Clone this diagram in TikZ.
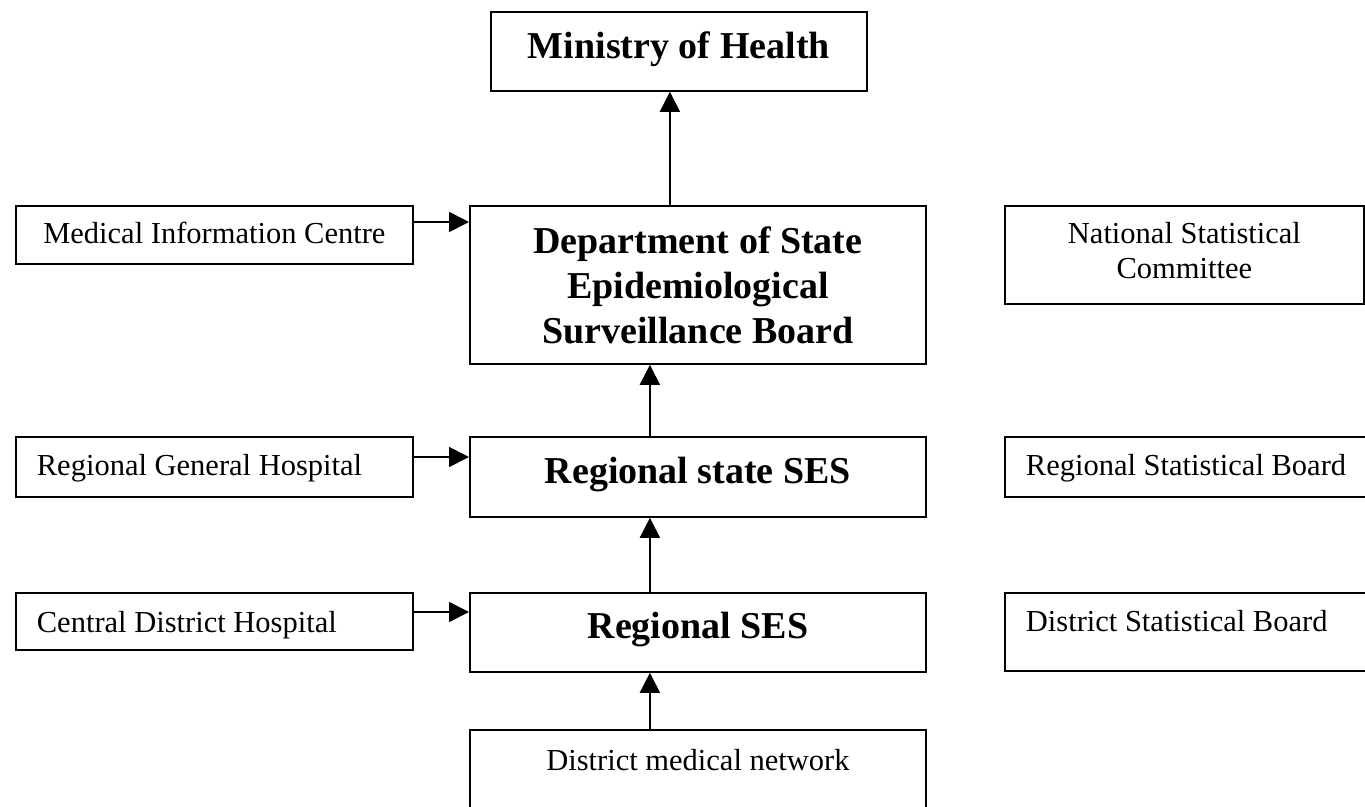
\documentclass[tikz,border=0pt]{standalone}
\usepackage{fontspec}
\setmainfont{Liberation Serif}
\usetikzlibrary{arrows.meta}

\tikzset{
  box/.style={draw, line width=1.8pt, inner sep=0pt, anchor=north west},
  big/.style={font=\bfseries\fontsize{38}{45}\selectfont},
  small/.style={font=\fontsize{30.5}{35}\selectfont},
  lefttext/.style={inner xsep=21pt},
  flow/.style={line width=1.8pt, -{Triangle[length=20pt,width=20pt]}}
}
\newcommand\flushtext[2]{\makebox[#1][l]{#2}}

\begin{document}
\begin{tikzpicture}[x=1pt,y=-1pt]
\useasboundingbox (0,0) rectangle (1365,806);

% central chain
\node[box, big, minimum width=376pt, text height=47pt, text depth=32pt] (moh) at (490,11) {Ministry of Health};
\node[box, big, minimum width=456pt, minimum height=158pt, align=center] (dept) at (469,205)
  {Department of State\\Epidemiological\\Surveillance Board};
\node[box, big, minimum width=456pt, text height=47pt, text depth=33pt] (rss) at (469,436) {Regional state SES};
\node[box, big, minimum width=456pt, text height=46pt, text depth=33pt] (rses) at (469,592) {Regional SES};
\node[box, small, minimum width=456pt, text height=41pt, text depth=70pt] (dmn) at (469,729) {District medical network};

% medical sources on the left
\node[box, small, minimum width=397pt, text height=38pt, text depth=20pt] (mic) at (15,205) {Medical Information Centre};
\node[box, small, lefttext, text height=39pt, text depth=21pt] (rgh) at (15,436) {\flushtext{355pt}{Regional General Hospital}};
\node[box, small, lefttext, text height=40pt, text depth=17pt] (cdh) at (15,592) {\flushtext{355pt}{Central District Hospital}};

% statistical bodies on the right
\node[box, small, minimum width=359pt, align=center, text height=73pt, text depth=25pt] (nsc) at (1004,205)
  {National Statistical\\Committee};
\node[box, small, lefttext, text height=39pt, text depth=21pt] (rsb) at (1004,436) {\flushtext{340pt}{Regional Statistical Board}};
\node[box, small, lefttext, text height=39pt, text depth=39pt] (dsb) at (1004,592) {\flushtext{340pt}{District Statistical Board}};

% horizontal feeds
\coordinate (h1) at ([yshift=-17pt]mic.north east);
\coordinate (h2) at ([yshift=-21pt]rgh.north east);
\coordinate (h3) at ([yshift=-20pt]cdh.north east);
\draw[flow] (h1) -- (h1 -| dept.west);
\draw[flow] (h2) -- (h2 -| rss.west);
\draw[flow] (h3) -- (h3 -| rses.west);

% vertical reporting line
\coordinate (v1) at ([xshift=-28pt]dept.north);
\coordinate (v2) at ([xshift=-48pt]rss.north);
\coordinate (v3) at ([xshift=-48pt]rses.north);
\coordinate (v4) at ([xshift=-48pt]dmn.north);
\draw[flow] (v1) -- (v1 |- moh.south);
\draw[flow] (v2) -- (v2 |- dept.south);
\draw[flow] (v3) -- (v3 |- rss.south);
\draw[flow] (v4) -- (v4 |- rses.south);
\end{tikzpicture}
\end{document}
